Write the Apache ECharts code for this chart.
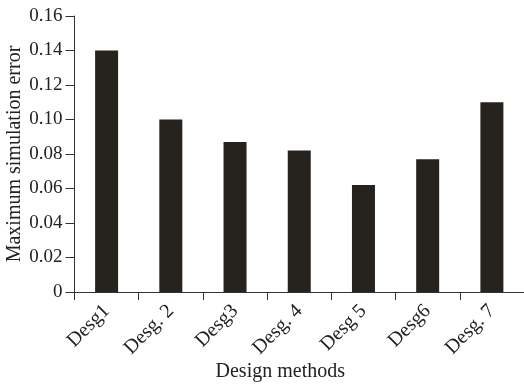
<!DOCTYPE html>
<html>
<head>
<meta charset="utf-8">
<script src="https://cdn.jsdelivr.net/npm/echarts@6/dist/echarts.min.js"></script>
<style>html,body{margin:0;padding:0;background:#fff;}#c{width:524px;height:386px;}</style>
</head>
<body>
<div id="c"></div>
<script>
var categories = ['Desg1', 'Desg. 2', 'Desg3', 'Desg. 4', 'Desg 5', 'Desg6', 'Desg. 7'];
var errorValues = [0.140, 0.100, 0.087, 0.082, 0.062, 0.077, 0.110];
var yTicks = [0, 0.02, 0.04, 0.06, 0.08, 0.10, 0.12, 0.14, 0.16];

var font = 'Liberation Serif';
var chart = echarts.init(document.getElementById('c'), null, {renderer: 'canvas'});
chart.setOption({
  animation: false,
  backgroundColor: '#fff',
  grid: {left: 74.5, right: 0, top: 16, bottom: 94, containLabel: false, outerBoundsMode: 'none'},
  xAxis: {
    type: 'category',
    data: categories,
    boundaryGap: true,
    name: 'Design methods',
    nameLocation: 'middle',
    nameGap: 70,
    nameMoveOverlap: false,
    nameTextStyle: {fontFamily: font, fontSize: 20, color: '#222', padding: [0, 38, 0, 0]},
    axisLine: {lineStyle: {color: '#333', width: 1}},
    axisTick: {show: true, length: 8, lineStyle: {color: '#333'}},
    axisLabel: {rotate: 45, margin: 16, fontFamily: font, fontSize: 20, color: '#222', interval: 0}
  },
  yAxis: {
    type: 'value',
    min: 0,
    max: 0.16,
    interval: 0.02,
    name: 'Maximum simulation error',
    nameLocation: 'middle',
    nameGap: 50,
    nameMoveOverlap: false,
    nameTextStyle: {fontFamily: font, fontSize: 20, color: '#222'},
    axisLine: {show: true, lineStyle: {color: '#333', width: 1}},
    axisTick: {show: true, length: 9, lineStyle: {color: '#333'}},
    splitLine: {show: false},
    axisLabel: {
      margin: 12, fontFamily: font, fontSize: 19, color: '#222',
      formatter: function (v) { return v === 0 ? '0' : v.toFixed(2); }
    }
  },
  series: [{
    type: 'bar',
    data: errorValues,
    barWidth: 23,
    itemStyle: {color: '#26231f'}
  }]
});
</script>
</body>
</html>
